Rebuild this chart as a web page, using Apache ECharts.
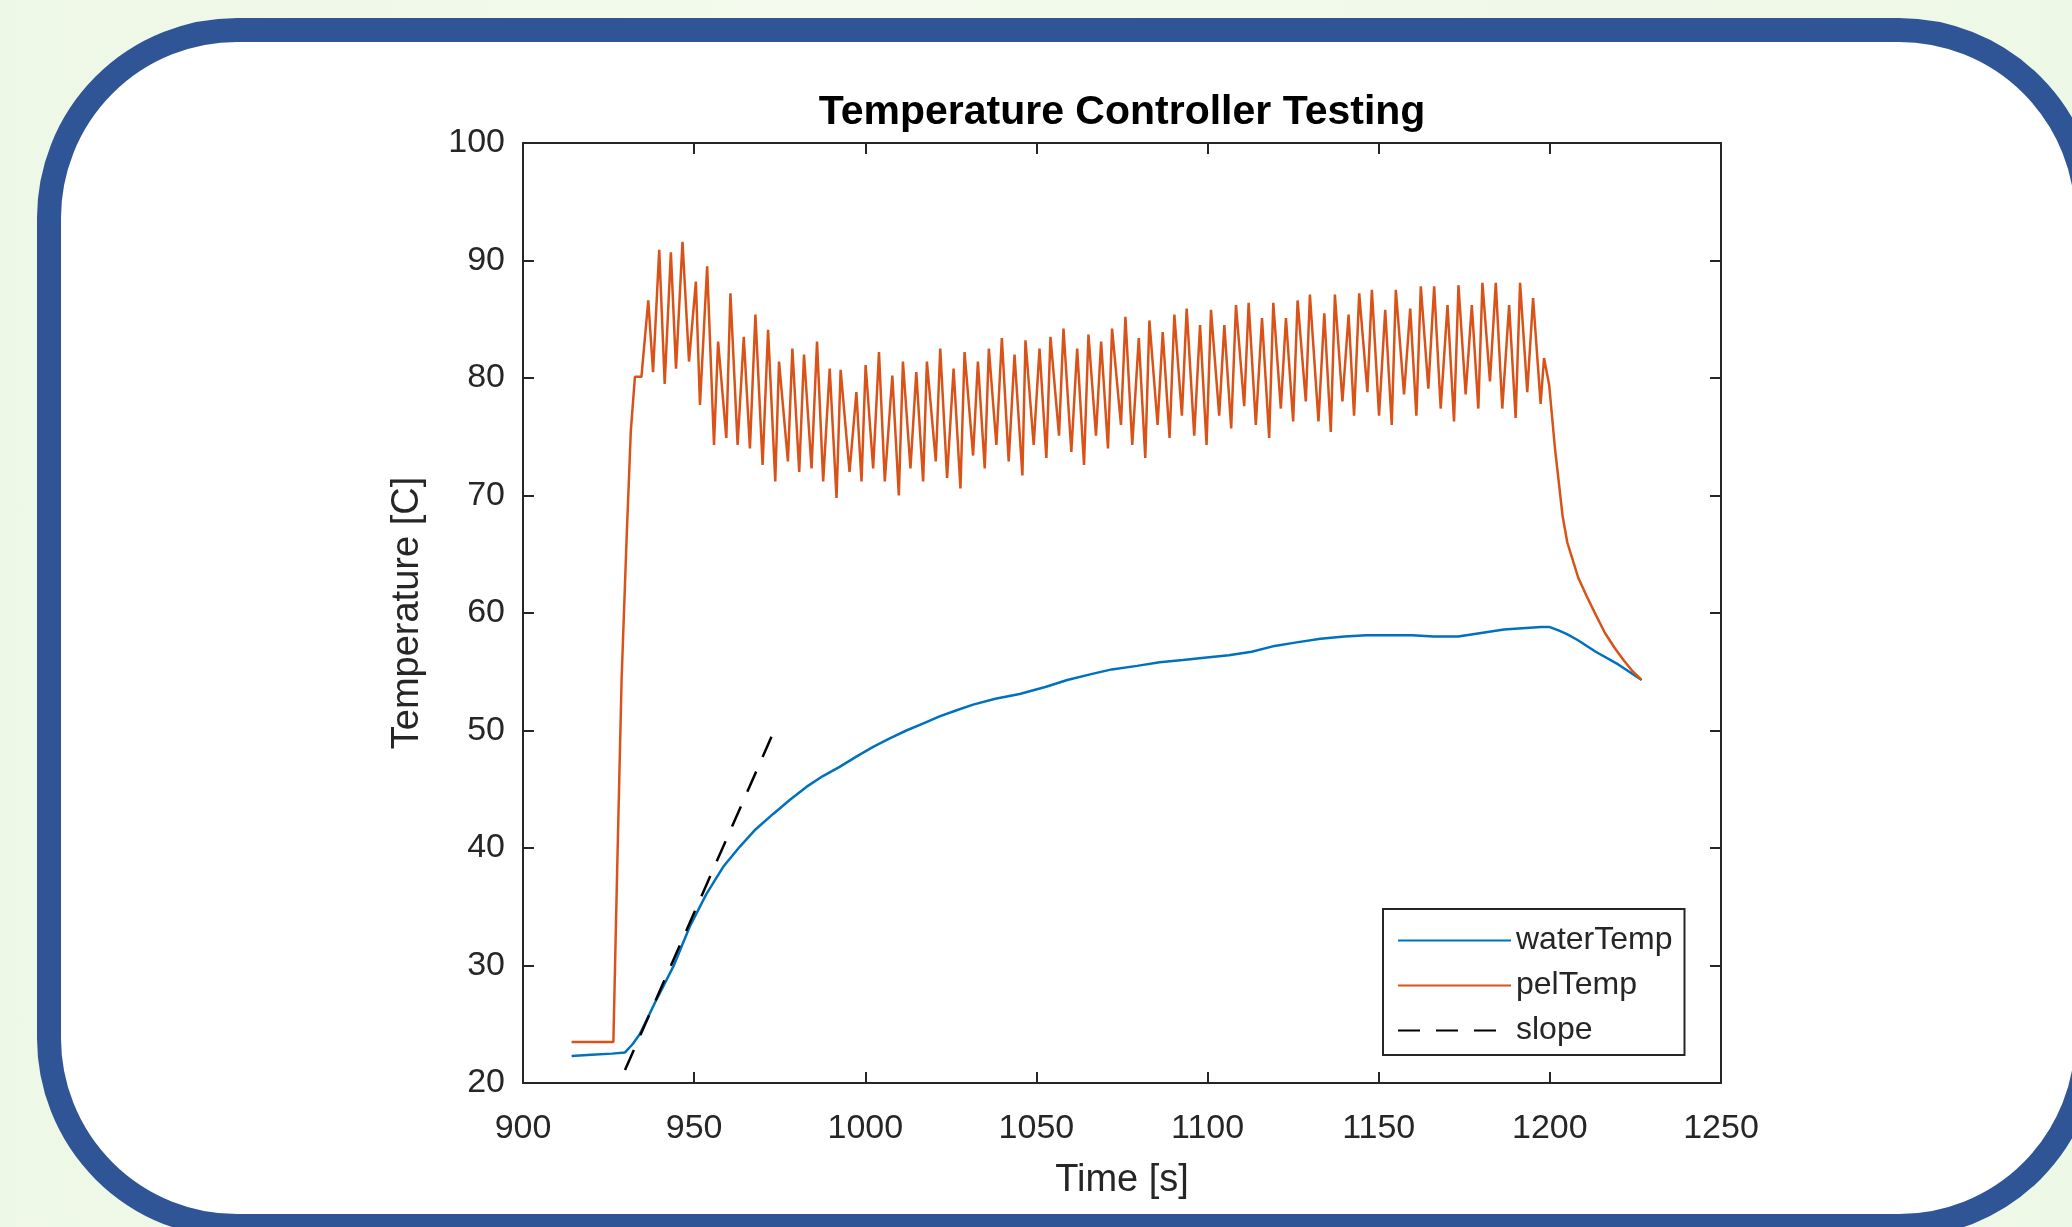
<!DOCTYPE html>
<html>
<head>
<meta charset="utf-8">
<script src="https://cdn.jsdelivr.net/npm/echarts@6/dist/echarts.min.js"></script>
<style>
  html, body { margin: 0; padding: 0; width: 2072px; height: 1227px; overflow: hidden;
    background: linear-gradient(90deg, #eef8e6 0%, #f4fbee 40%, #eef8e6 100%); }
  #frame { position: absolute; left: 37px; top: 18px; width: 2062px; height: 1220px;
    box-sizing: border-box; border: 24px solid #2f5597; border-radius: 200px; background: #ffffff; }
  #chart { position: absolute; left: 0; top: 0; width: 2072px; height: 1227px; }
</style>
</head>
<body>
<div id="frame"></div>
<div id="chart"></div>
<script>
// ---- data ----
const xTicks = [900, 950, 1000, 1050, 1100, 1150, 1200, 1250];
const yTicks = [20, 30, 40, 50, 60, 70, 80, 90, 100];

const waterTime = [914.2, 920, 926, 929.8, 932, 934.2, 939.0, 943.9, 948.7, 953.6, 958.5, 963.3, 968, 973.1, 978, 982.8, 987.5, 992.5, 997.5, 1002.3, 1007, 1012.0, 1017, 1021.7, 1026.5, 1031.5, 1038, 1045.1, 1052.6, 1059, 1066.0, 1072, 1079.4, 1086, 1092.8, 1099, 1106.2, 1112.9, 1119.6, 1126, 1133.0, 1140, 1146.4, 1153, 1159.8, 1166, 1173.2, 1179.9, 1186.6, 1192, 1197.4, 1200, 1202.7, 1205, 1208.1, 1213.4, 1220.1, 1226.8];
const waterTemp = [22.3, 22.4, 22.5, 22.6, 23.3, 24.2, 27.1, 29.9, 33.3, 36.1, 38.4, 40.1, 41.6, 42.9, 44.1, 45.2, 46.1, 46.9, 47.8, 48.6, 49.3, 50.0, 50.6, 51.2, 51.7, 52.2, 52.7, 53.1, 53.7, 54.3, 54.8, 55.2, 55.5, 55.8, 56.0, 56.2, 56.4, 56.7, 57.2, 57.5, 57.8, 58.0, 58.1, 58.1, 58.1, 58.0, 58.0, 58.3, 58.6, 58.7, 58.8, 58.8, 58.5, 58.2, 57.7, 56.7, 55.6, 54.3];

const pelTime = [914.2, 926.4, 927.5, 928.8, 930.3, 931.5, 932.7, 934.6, 936.6, 938.0, 939.8, 941.4, 943.2, 944.7, 946.6, 948.5, 950.5, 951.7, 953.8, 955.8, 957.0, 959.4, 960.6, 962.7, 964.5, 966.3, 967.9, 970.0, 971.6, 973.7, 974.8, 977.4, 978.7, 980.7, 982.1, 984.3, 985.9, 987.7, 989.6, 991.6, 992.8, 995.4, 997.4, 998.9, 1000.1, 1002.3, 1004.0, 1005.7, 1007.9, 1009.8, 1011.0, 1013.2, 1014.9, 1016.9, 1018.0, 1020.6, 1021.9, 1023.9, 1025.8, 1027.8, 1029.0, 1031.5, 1032.9, 1034.9, 1036.1, 1038.3, 1039.9, 1041.9, 1043.6, 1045.9, 1046.8, 1049.2, 1050.9, 1052.9, 1054.1, 1056.6, 1057.9, 1060.2, 1061.9, 1063.9, 1065.2, 1067.4, 1068.9, 1070.9, 1072.1, 1074.7, 1076.0, 1078.0, 1079.9, 1081.8, 1083.0, 1085.4, 1086.9, 1088.9, 1090.3, 1092.5, 1093.9, 1096.1, 1097.8, 1099.7, 1101.0, 1103.4, 1104.9, 1106.9, 1108.3, 1110.7, 1112.0, 1114.1, 1115.9, 1118.0, 1119.2, 1121.4, 1122.9, 1125.0, 1126.3, 1128.7, 1129.9, 1132.4, 1134.1, 1136.0, 1137.2, 1139.4, 1141.2, 1142.8, 1144.3, 1146.7, 1148.0, 1150.1, 1151.9, 1153.8, 1155.0, 1157.4, 1159.2, 1161.0, 1162.3, 1164.5, 1166.2, 1168.1, 1170.1, 1172.0, 1173.3, 1175.4, 1177.2, 1179.1, 1180.3, 1182.5, 1184.2, 1186.1, 1188.1, 1190.0, 1191.3, 1193.4, 1195.1, 1197.3, 1198.3, 1199.8, 1201.5, 1203.7, 1205.1, 1206.7, 1208.3, 1210.8, 1213.5, 1216.1, 1219.0, 1221.5, 1224.0, 1226.8];
const pelTemp = [23.5, 23.5, 38, 54.3, 66.6, 75.5, 80.1, 80.1, 86.6, 80.5, 90.9, 79.5, 90.7, 80.8, 91.6, 81.4, 88.2, 77.7, 89.5, 74.3, 83.1, 74.9, 87.2, 74.3, 83.5, 74.0, 85.4, 72.6, 84.1, 71.2, 81.4, 72.9, 82.5, 72.0, 82.0, 72.3, 83.1, 71.2, 80.8, 69.8, 80.7, 72.0, 78.8, 71.2, 81.1, 72.3, 82.2, 71.2, 80.2, 70.0, 81.4, 72.3, 80.5, 71.2, 81.4, 72.9, 82.5, 71.5, 80.8, 70.6, 82.2, 73.4, 81.4, 72.3, 82.5, 74.3, 83.4, 72.9, 82.0, 71.7, 83.2, 74.3, 82.5, 73.2, 83.5, 75.1, 84.2, 73.7, 82.5, 72.6, 83.7, 75.1, 83.1, 74.0, 84.2, 76.0, 85.2, 74.3, 83.4, 73.2, 84.9, 76.0, 83.9, 74.9, 85.4, 76.8, 85.9, 75.1, 84.5, 74.3, 85.8, 76.8, 84.5, 75.7, 86.2, 77.6, 86.4, 76.0, 85.1, 74.9, 86.4, 77.4, 85.1, 76.3, 86.6, 78.0, 87.1, 76.3, 85.5, 75.4, 87.1, 78.0, 85.4, 76.8, 87.2, 78.8, 87.5, 76.8, 85.8, 76.0, 87.5, 78.6, 85.9, 76.8, 87.8, 79.1, 87.8, 77.4, 86.2, 76.3, 87.9, 78.6, 86.2, 77.4, 88.1, 79.7, 88.1, 77.4, 86.2, 76.6, 88.1, 78.8, 86.8, 77.8, 81.7, 79.4, 74.0, 68.3, 66.0, 64.5, 63.0, 61.4, 59.8, 58.3, 57.0, 56.0, 55.1, 54.3];

const slopeTime = [929.8, 973.1];
const slopeTemp = [21.1, 49.8];

const seriesNames = ['waterTemp', 'pelTemp', 'slope'];
const titleText = 'Temperature Controller Testing';
const xName = 'Time [s]';
const yName = 'Temperature [C]';

// ---- build ----
const zip = (a, b) => a.map((v, i) => [v, b[i]]);
const FONT = '"Liberation Sans", Arial, Helvetica, sans-serif';
const AX = '#262626';

const chart = echarts.init(document.getElementById('chart'), null, { renderer: 'canvas' });

const baseX = {
  type: 'value', min: xTicks[0], max: xTicks[xTicks.length - 1], interval: 50,
  axisLine: { show: true, onZero: false, lineStyle: { color: AX, width: 2 } },
  axisTick: { show: true, inside: true, length: 11, lineStyle: { color: AX, width: 2 } },
  splitLine: { show: false }
};
const baseY = {
  type: 'value', min: yTicks[0], max: yTicks[yTicks.length - 1], interval: 10,
  axisLine: { show: true, onZero: false, lineStyle: { color: AX, width: 2 } },
  axisTick: { show: true, inside: true, length: 11, lineStyle: { color: AX, width: 2 } },
  splitLine: { show: false }
};

chart.setOption({
  animation: false,
  backgroundColor: 'transparent',
  textStyle: { fontFamily: FONT },
  title: {
    text: titleText, left: 1122, top: 92, textAlign: 'center', padding: 0,
    textStyle: { fontFamily: FONT, fontSize: 41, fontWeight: 'bold', color: '#000' }
  },
  grid: { left: 523, right: 351, top: 143, bottom: 144, containLabel: false },
  xAxis: [
    Object.assign({}, baseX, {
      position: 'bottom', name: xName, nameLocation: 'middle', nameGap: 79,
      nameTextStyle: { fontFamily: FONT, fontSize: 38, color: AX },
      axisLabel: { show: true, margin: 29, fontFamily: FONT, fontSize: 34, color: AX,
        formatter: (v) => String(v) }
    }),
    Object.assign({}, baseX, { position: 'top', axisLabel: { show: false } })
  ],
  yAxis: [
    Object.assign({}, baseY, {
      position: 'left', name: yName, nameLocation: 'middle', nameGap: 96,
      nameTextStyle: { fontFamily: FONT, fontSize: 38, color: AX },
      axisLabel: { show: true, margin: 18, fontFamily: FONT, fontSize: 34, color: AX,
        formatter: (v) => String(v) }
    }),
    Object.assign({}, baseY, { position: 'right', axisLabel: { show: false } })
  ],
  legend: {
    orient: 'vertical', left: 1383, top: 909,
    data: seriesNames,
    backgroundColor: '#ffffff', borderColor: '#262626', borderWidth: 2, borderRadius: 0,
    padding: [13, 12, 6, 14], itemWidth: 113, itemHeight: 14, itemGap: 8,
    itemStyle: { opacity: 0 },
    textStyle: { fontFamily: FONT, fontSize: 32, color: AX, lineHeight: 37 },
    selectedMode: false
  },
  series: [
    { name: seriesNames[0], type: 'line', data: zip(waterTime, waterTemp), showSymbol: false, symbol: 'none',
      lineStyle: { color: '#0072BD', width: 2.5 }, itemStyle: { color: '#0072BD' }, z: 2 },
    { name: seriesNames[1], type: 'line', data: zip(pelTime, pelTemp), showSymbol: false, symbol: 'none',
      lineStyle: { color: '#D95319', width: 2.5 }, itemStyle: { color: '#D95319' }, z: 3 },
    { name: seriesNames[2], type: 'line', data: zip(slopeTime, slopeTemp), showSymbol: false, symbol: 'none',
      lineStyle: { color: '#000000', width: 2.5, type: [22, 16] }, itemStyle: { color: '#000000' }, z: 4 }
  ]
});
</script>
</body>
</html>
